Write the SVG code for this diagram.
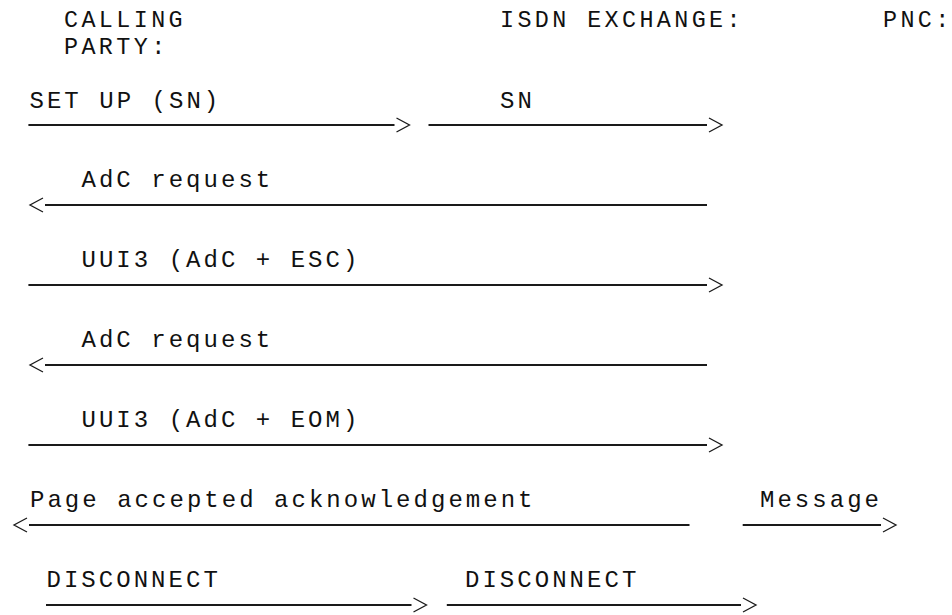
<svg xmlns="http://www.w3.org/2000/svg" width="952" height="615" viewBox="0 0 952 615">
<style>
  text { font-family: "Liberation Mono", "Courier New", monospace; font-size: 24px; letter-spacing: 3.03px; fill: #111; }
  text.hdr { font-size: 23.4px; letter-spacing: 3.39px; }
  .msg { stroke: #1a1a1a; stroke-width: 1.8; fill: none; }
</style>
<defs>
  <marker id="chev" markerUnits="userSpaceOnUse" markerWidth="18" markerHeight="16" refX="0" refY="7" orient="auto-start-reverse" overflow="visible">
    <path d="M2,0 L15,7 L2,14" fill="none" stroke="#1a1a1a" stroke-width="1.3"/>
  </marker>
</defs>
<rect width="952" height="615" fill="#fff"/>

<g id="node-calling-party">
  <text class="hdr" x="64" y="27">CALLING</text>
  <text class="hdr" x="64" y="53.5">PARTY:</text>
</g>
<g id="node-isdn-exchange">
  <text class="hdr" x="500" y="27">ISDN EXCHANGE:</text>
</g>
<g id="node-pnc">
  <text class="hdr" x="883" y="27">PNC:</text>
</g>

<g id="connectors">
  <g id="m1-setup">
    <text x="29.5" y="108">SET UP (SN)</text>
    <line class="msg" x1="28.4" y1="125" x2="394.5" y2="125" marker-end="url(#chev)"/>
  </g>
  <g id="m2-sn">
    <text x="500" y="108">SN</text>
    <line class="msg" x1="428.5" y1="125" x2="707" y2="125" marker-end="url(#chev)"/>
  </g>
  <g id="m3-adc-request">
    <text x="81.5" y="187">AdC request</text>
    <line class="msg" x1="45" y1="205" x2="707" y2="205" marker-start="url(#chev)"/>
  </g>
  <g id="m4-uui3-esc">
    <text x="81.5" y="267">UUI3 (AdC + ESC)</text>
    <line class="msg" x1="28.4" y1="285" x2="707" y2="285" marker-end="url(#chev)"/>
  </g>
  <g id="m5-adc-request">
    <text x="81.5" y="347">AdC request</text>
    <line class="msg" x1="45" y1="365" x2="707" y2="365" marker-start="url(#chev)"/>
  </g>
  <g id="m6-uui3-eom">
    <text x="81.5" y="427">UUI3 (AdC + EOM)</text>
    <line class="msg" x1="28.4" y1="445" x2="707" y2="445" marker-end="url(#chev)"/>
  </g>
  <g id="m7-page-accepted">
    <text x="30" y="507">Page accepted acknowledgement</text>
    <line class="msg" x1="29" y1="525" x2="689.5" y2="525" marker-start="url(#chev)"/>
  </g>
  <g id="m8-message">
    <text x="760" y="507">Message</text>
    <line class="msg" x1="742.7" y1="525" x2="881" y2="525" marker-end="url(#chev)"/>
  </g>
  <g id="m9-disconnect">
    <text x="46.5" y="587">DISCONNECT</text>
    <line class="msg" x1="46" y1="605" x2="411.5" y2="605" marker-end="url(#chev)"/>
  </g>
  <g id="m10-disconnect">
    <text x="465" y="587">DISCONNECT</text>
    <line class="msg" x1="446.8" y1="605" x2="741" y2="605" marker-end="url(#chev)"/>
  </g>
</g>
</svg>
